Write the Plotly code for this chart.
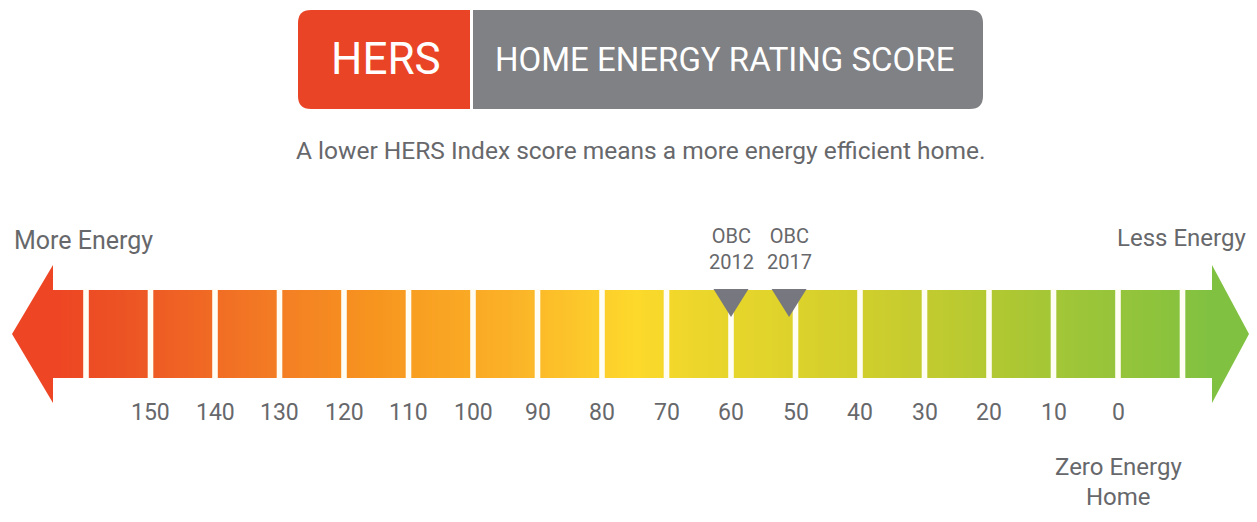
import numpy as np
import plotly.graph_objects as go

# ---------------- data ----------------
tick_scores = [150, 140, 130, 120, 110, 100, 90, 80, 70, 60, 50, 40, 30, 20, 10, 0]
tick_labels = [str(v) for v in tick_scores]
box_edges = [160, 150, 140, 130, 120, 110, 100, 90, 80, 70, 60, 50, 40, 30, 20, 10, 0, -10]
obc_scores = [60, 51]
obc_labels = ["OBC<br>2012", "OBC<br>2017"]
zero_score = 0
color_scores = [165, 155, 145, 135, 125, 115, 105, 95, 85, 75, 65, 55, 45, 35, 25, 15, 5, -5, -15]
color_hex = ["#ee4524", "#ec5224", "#ef6324", "#f27524", "#f58622", "#f7951f", "#f9a423",
             "#fbb027", "#fcc42a", "#fdd92b", "#ecd62b", "#e2d42b", "#d6d02c", "#cacd2e",
             "#bbca30", "#abc733", "#9cc539", "#8fc33c", "#80c142"]

# page geometry (the page body has an 8px margin)
WIN_W, WIN_H, OFF = 1257, 522, 8
W, H = WIN_W - 2 * OFF, WIN_H - 2 * OFF
PX0, PXU = 86.0, 6.45          # window pixel of score 160, pixels per score unit
FONT = "Roboto, Liberation Sans, Arial, sans-serif"
GRAY = "#67686b"


def to_score(px):
    return 160 - (px - PX0) / PXU


x_range = [to_score(OFF), to_score(OFF + W)]
bar_top, bar_bot = 290, 378

# colour scale built from the read colour stops
zmin, zmax = min(color_scores), max(color_scores)
cs = sorted(((s - zmin) / (zmax - zmin), c) for s, c in zip(color_scores, color_hex))

left_base, right_base = to_score(52), to_score(1213)
edges = np.linspace(left_base, right_base, 401)
centers = (edges[:-1] + edges[1:]) / 2

fig = go.Figure()
fig.add_trace(go.Heatmap(x=edges, y=[bar_top, bar_bot], z=[centers], colorscale=cs,
                         zmin=zmin, zmax=zmax, showscale=False, hoverinfo="skip"))
fig.add_trace(go.Scatter(x=[OFF, OFF + W], y=[OFF, OFF], xaxis="x2", mode="markers",
                         marker=dict(opacity=0), hoverinfo="skip", showlegend=False))

shapes = []
# arrow heads (window-pixel axis)
shapes.append(dict(type="path", xref="x2", yref="y", layer="above",
                   path="M 53,265 L 53,403 L 12,334 Z", fillcolor=color_hex[0], line=dict(width=0)))
shapes.append(dict(type="path", xref="x2", yref="y", layer="above",
                   path="M 1212,265 L 1212,403 L 1249,334 Z", fillcolor=color_hex[-1], line=dict(width=0)))
# white gaps between the boxes
half_gap = 2.8 / PXU
for s in box_edges:
    shapes.append(dict(type="rect", xref="x", yref="y", x0=s + half_gap, x1=s - half_gap,
                       y0=bar_top - 1, y1=bar_bot + 1, fillcolor="#fffdf4", line=dict(width=0)))
# OBC markers
tri_half = 17.5 / PXU
for s in obc_scores:
    shapes.append(dict(type="path", xref="x", yref="y",
                       path=f"M {s + tri_half},{bar_top - 1} L {s - tri_half},{bar_top - 1} L {s},317 Z",
                       fillcolor="#77777f", line=dict(width=0)))
# header boxes
r = 13
shapes.append(dict(type="path", xref="x2", yref="y",
                   path=f"M {298 + r},10 L 470,10 L 470,109 L {298 + r},109 Q 298,109 298,{109 - r} "
                        f"L 298,{10 + r} Q 298,10 {298 + r},10 Z",
                   fillcolor="#ea4426", line=dict(width=0)))
shapes.append(dict(type="path", xref="x2", yref="y",
                   path=f"M 473,10 L {983 - r},10 Q 983,10 983,{10 + r} L 983,{109 - r} "
                        f"Q 983,109 {983 - r},109 L 473,109 Z",
                   fillcolor="#808184", line=dict(width=0)))

ann = []
ann.append(dict(x=386, y=59, xref="x2", yref="y", text="HERS", showarrow=False,
                font=dict(family=FONT, size=44, color="white")))
ann.append(dict(x=724, y=59, xref="x2", yref="y", text="HOME ENERGY RATING SCORE", showarrow=False,
                font=dict(family=FONT, size=33, color="white")))
ann.append(dict(x=641, y=150, xref="x2", yref="y",
                text="A lower HERS Index score means a more energy efficient home.", showarrow=False,
                font=dict(family=FONT, size=24.5, color=GRAY)))
ann.append(dict(x=12, y=240, xref="x2", yref="y", xanchor="left", text="More Energy", showarrow=False,
                font=dict(family=FONT, size=25, color=GRAY)))
ann.append(dict(x=1248, y=238, xref="x2", yref="y", xanchor="right", text="Less Energy", showarrow=False,
                font=dict(family=FONT, size=24, color=GRAY)))
for s, t in zip(tick_scores, tick_labels):
    ann.append(dict(x=s, y=412, xref="x", yref="y", text=t, showarrow=False,
                    font=dict(family=FONT, size=23, color=GRAY)))
for s, t in zip(obc_scores, obc_labels):
    ann.append(dict(x=s, y=249, xref="x", yref="y", text=t, showarrow=False,
                    font=dict(family=FONT, size=20, color=GRAY)))
ann.append(dict(x=zero_score, y=467, xref="x", yref="y", text="Zero Energy", showarrow=False,
                font=dict(family=FONT, size=24, color=GRAY)))
ann.append(dict(x=zero_score, y=497, xref="x", yref="y", text="Home", showarrow=False,
                font=dict(family=FONT, size=24, color=GRAY)))

fig.update_layout(
    width=W, height=H, margin=dict(l=0, r=0, t=0, b=0),
    paper_bgcolor="white", plot_bgcolor="white", showlegend=False,
    xaxis=dict(range=x_range, visible=False, fixedrange=True),
    xaxis2=dict(range=[OFF, OFF + W], overlaying="x", visible=False, fixedrange=True),
    yaxis=dict(range=[OFF + H, OFF], visible=False, fixedrange=True),
    shapes=shapes, annotations=ann,
)
fig.write_html("out.html")
